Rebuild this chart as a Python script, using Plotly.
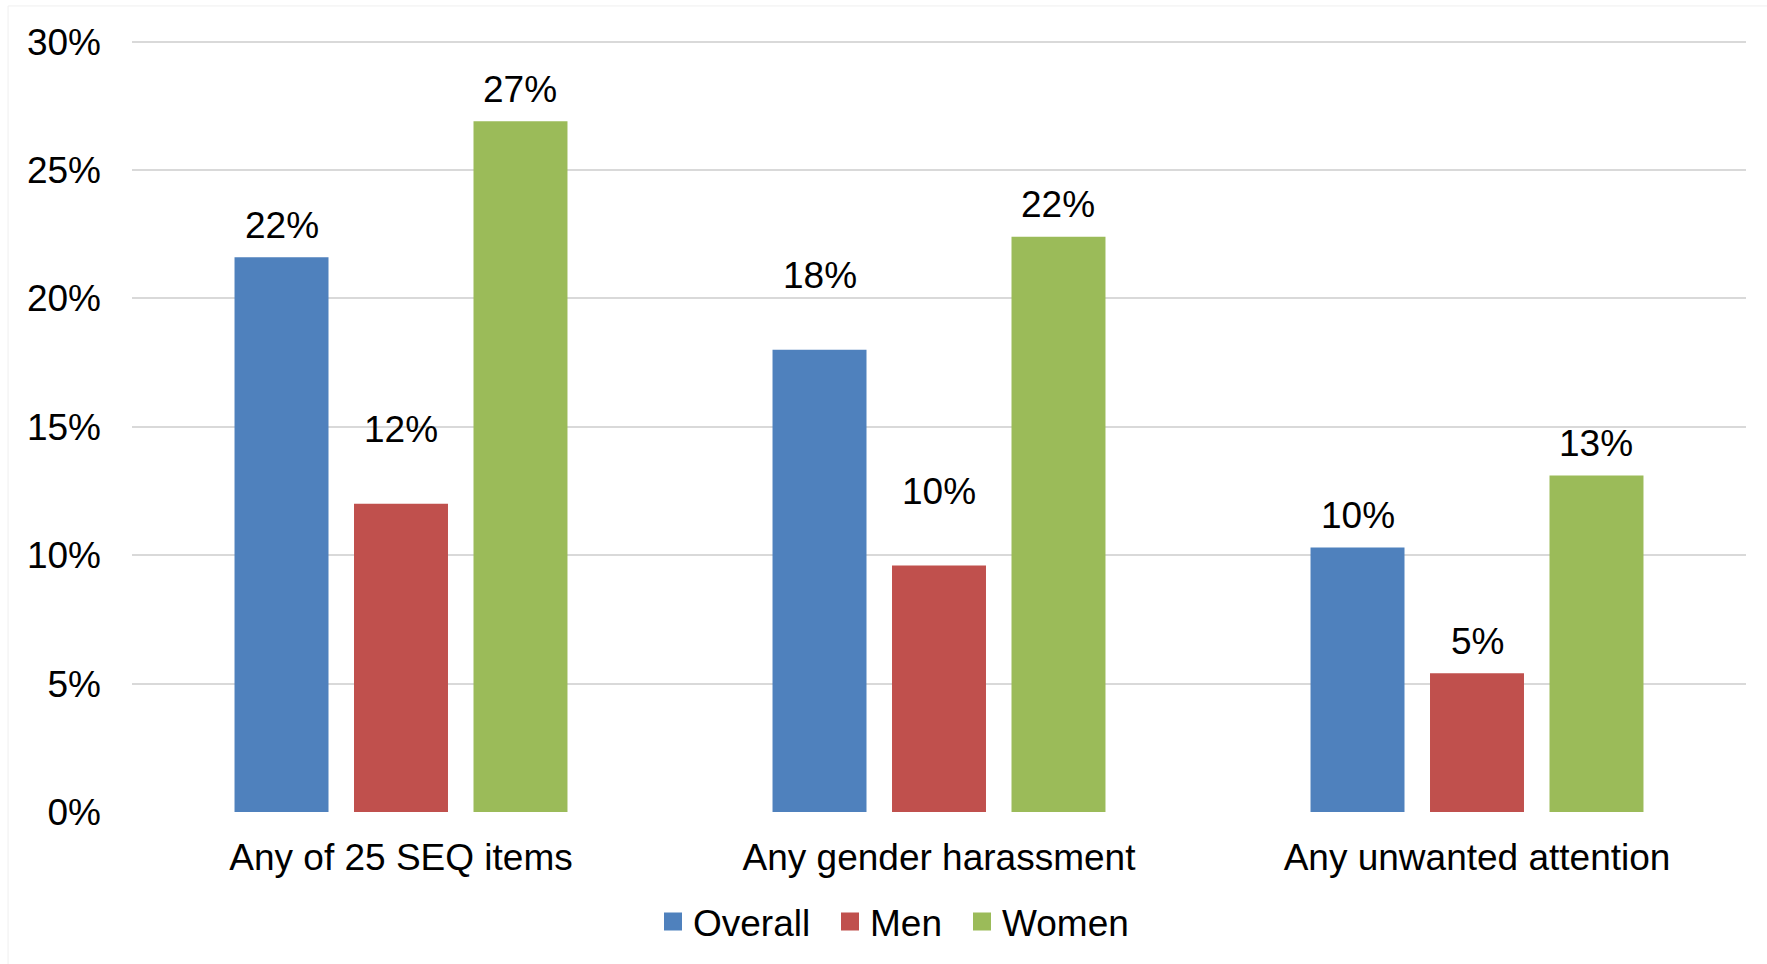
import plotly.graph_objects as go

# Share of respondents reporting each experience, by group
categories = ["Any of 25 SEQ items", "Any gender harassment", "Any unwanted attention"]
series_names = ["Overall", "Men", "Women"]
overall = [0.216, 0.180, 0.103]
men = [0.120, 0.096, 0.054]
women = [0.269, 0.224, 0.131]
y_ticks = [0, 0.05, 0.10, 0.15, 0.20, 0.25, 0.30]

series_values = [overall, men, women]
colors = ["#4F81BD", "#C0504D", "#9BBB59"]

FONT = "Liberation Sans, Arial, sans-serif"
FONT_SIZE = 37

# bar geometry within a category slot (category unit = 1)
bar_w = 0.1747
step = 0.2221
centers = [-step, 0.0, step]

# labels that sit higher above their bar (series index, category index)
raised = {(0, 1), (1, 0), (1, 1)}

# each legend entry gets its own legend box, placed left to right
legend_ids = ["legend", "legend2", "legend3"]
legend_left = [653, 830, 962]

fig = go.Figure()
annotations = []
for s, (name, vals, col) in enumerate(zip(series_names, series_values, colors)):
    xs = list(range(len(categories)))
    fig.add_trace(go.Bar(
        x=xs, y=vals, name=name,
        width=bar_w, offset=centers[s] - bar_w / 2,
        marker=dict(color=col, line=dict(width=0)),
        showlegend=False, hoverinfo="skip",
    ))
    # legend swatch
    fig.add_trace(go.Scatter(
        x=[None], y=[None], mode="markers", name=name,
        marker=dict(symbol="square", size=16, color=col,
                    line=dict(color=col, width=2)),
        legend=legend_ids[s],
    ))
    for c, v in enumerate(vals):
        annotations.append(dict(
            x=c + centers[s], y=v, xref="x", yref="y",
            text=f"{v:.0%}", showarrow=False,
            yanchor="middle", yshift=74 if (s, c) in raised else 32,
            font=dict(family=FONT, size=FONT_SIZE, color="#000000"),
        ))

legend_style = dict(
    orientation="h", xref="container", yref="container",
    xanchor="left", y=1 - 922 / 964, yanchor="middle",
    font=dict(family=FONT, size=FONT_SIZE, color="#000000"),
    itemsizing="trace", bgcolor="rgba(0,0,0,0)",
)
legends = {lid: dict(legend_style, x=lx / 1767) for lid, lx in zip(legend_ids, legend_left)}

fig.update_layout(
    width=1767, height=964,
    margin=dict(l=132, r=20.5, t=39.4, b=152),
    paper_bgcolor="white", plot_bgcolor="white",
    barmode="overlay",
    font=dict(family=FONT, size=FONT_SIZE, color="#000000"),
    annotations=annotations,
    shapes=[dict(
        type="rect", xref="paper", yref="paper",
        x0=(8 - 132) / 1614.5, x1=1.02, y0=-0.3, y1=1 + 33 / 772,
        line=dict(color="#efefef", width=1), fillcolor="rgba(0,0,0,0)",
        layer="below",
    )],
    **legends,
)

fig.update_xaxes(
    range=[-0.5, len(categories) - 0.5],
    tickvals=list(range(len(categories))), ticktext=categories,
    showgrid=False, zeroline=False, showline=False,
    ticks="", ticklabelstandoff=20,
    tickfont=dict(family=FONT, size=FONT_SIZE, color="#000000"),
)
fig.update_yaxes(
    range=[0, 0.301], tickvals=y_ticks, tickformat=".0%",
    showgrid=True, gridcolor="#D9D9D9", gridwidth=1.5,
    zeroline=False, showline=False, ticks="", ticklabelstandoff=30,
    tickfont=dict(family=FONT, size=FONT_SIZE, color="#000000"),
)

fig.write_html("out.html")
